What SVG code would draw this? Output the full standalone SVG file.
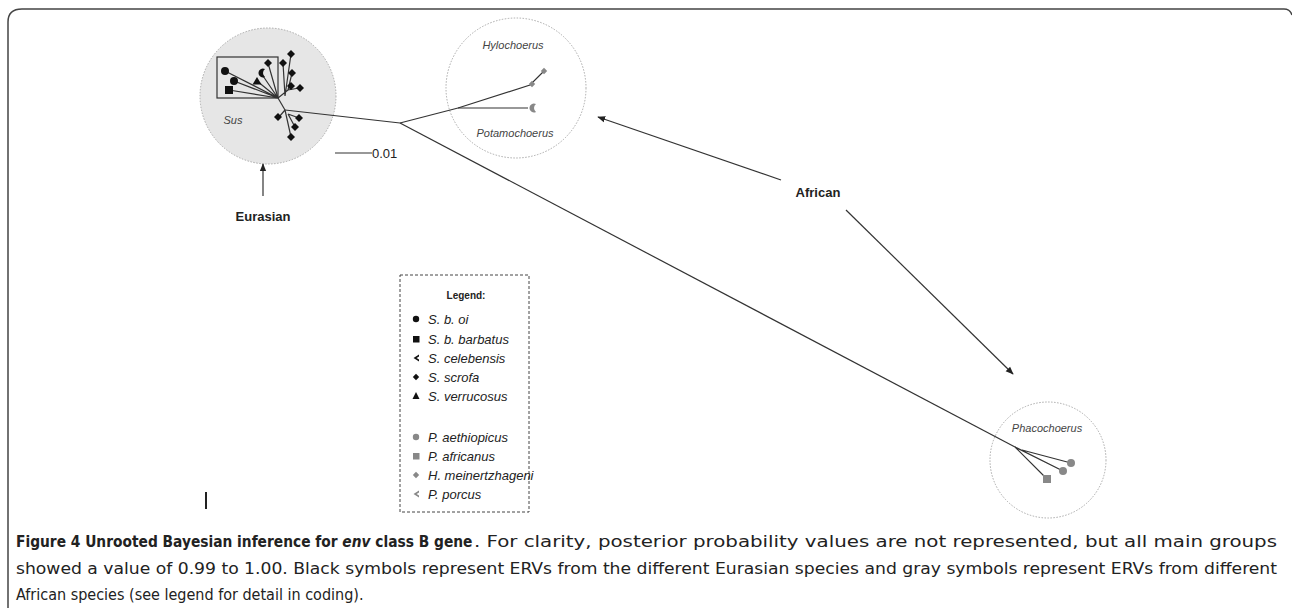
<svg xmlns="http://www.w3.org/2000/svg" width="1292" height="608" viewBox="0 0 1292 608">
<style>
.br{stroke:#333;stroke-width:1.2;fill:none}
.clade{fill:none;stroke:#aaa;stroke-width:1;stroke-dasharray:1.5 1.5}
.lab{font-family:"Liberation Sans",Arial,sans-serif;font-style:italic;font-size:11px;fill:#444}
.bold{font-family:"Liberation Sans",Arial,sans-serif;font-weight:bold;font-size:13px;fill:#222}
.leg{font-family:"Liberation Sans",Arial,sans-serif;font-style:italic;font-size:13px;fill:#222}
.cap{font-family:"DejaVu Sans Condensed","DejaVu Sans",sans-serif;font-size:16px;fill:#222}
.blk{fill:#111}
.gry{fill:#888}
.arr{stroke:#333;stroke-width:1.2;fill:none;marker-end:url(#ah)}
</style>
<defs>
<marker id="ah" viewBox="0 0 10 10" refX="9" refY="5" markerWidth="8" markerHeight="8" orient="auto" markerUnits="userSpaceOnUse"><path d="M0,1 L10,5 L0,9 Z" fill="#222"/></marker>
<path id="dia" d="M0,-4 L4,0 L0,4 L-4,0 Z"/>
<path id="sdia" d="M0,-3.2 L3.2,0 L0,3.2 L-3.2,0 Z"/>
<path id="cres" d="M3,-4 A4.5,4.5 0 1 0 3,4 A5,5 0 0 1 3,-4 Z"/>
<path id="chev" d="M3,-3.5 L-2.5,0 L3,3.5 L3,1.6 L0.6,0 L3,-1.6 Z"/>
<path id="tri" d="M0,-4 L4.5,3.5 L-4.5,3.5 Z"/>
</defs>

<path d="M8,608 V22 Q8,9 22,9 H1284 Q1290,9 1292,15" fill="none" stroke="#444" stroke-width="1.5"/>

<g id="sus">
<circle cx="268" cy="96" r="68" fill="#e6e6e6" stroke="#aaa" stroke-width="1" stroke-dasharray="1.5 1.5"/>
<rect x="217" y="57" width="61" height="41" fill="none" stroke="#333" stroke-width="1.2"/>
<text class="lab" x="233" y="124" text-anchor="middle" font-size="12">Sus</text>
<g class="br">
<path d="M278,98 L225,71 M278,98 L234,81 M278,98 L229,90 M278,98 L257,81 M278,98 L261,73 M278,98 L268,63"/>
<path d="M278,98 L285,110"/>
<path d="M285,96 L283,63 M285,96 L291,54 M288,90 L292,73 M288,90 L291,85 M288,90 L299,88 M278,98 L288,90"/>
<path d="M285,110 L279,117 M285,110 L291,137 M288,114 L299,118 M288,114 L295,127"/>
</g>
<circle class="blk" cx="225" cy="71" r="4"/>
<circle class="blk" cx="234" cy="81" r="4"/>
<rect class="blk" x="225" y="86" width="8" height="8"/>
<use href="#tri" x="257" y="81" class="blk"/>
<use href="#cres" x="262" y="73" class="blk"/>
<use href="#dia" x="268" y="63" class="blk"/>
<use href="#dia" x="291" y="54" class="blk"/>
<use href="#dia" x="283" y="63" class="blk"/>
<use href="#dia" x="292" y="73" class="blk"/>
<use href="#dia" x="291" y="86" class="blk"/>
<use href="#dia" x="300" y="88" class="blk"/>
<use href="#dia" x="278" y="117" class="blk"/>
<use href="#dia" x="299" y="118" class="blk"/>
<use href="#dia" x="295" y="127" class="blk"/>
<use href="#dia" x="291" y="137" class="blk"/>
</g>

<g id="hylo">
<circle cx="516" cy="88" r="70" class="clade" fill="#fff"/>
<text class="lab" x="513" y="49" text-anchor="middle">Hylochoerus</text>
<text class="lab" x="515" y="137" text-anchor="middle">Potamochoerus</text>
<g class="br">
<path d="M458,108 L530,85 L544,71 M530,85 L532,84"/>
<path d="M458,108 L528,108"/>
</g>
<use href="#sdia" x="544" y="71" class="gry"/>
<use href="#sdia" x="532" y="84" class="gry"/>
<use href="#cres" x="533" y="108" class="gry"/>
</g>

<g id="phaco">
<circle cx="1048" cy="460" r="58" class="clade" fill="#fff"/>
<text class="lab" x="1047" y="432" text-anchor="middle">Phacochoerus</text>
<g class="br">
<path d="M1015,447 L1047,479 M1015,447 L1063,471 M1022,450 L1071,463"/>
</g>
<rect class="gry" x="1043" y="475" width="8" height="8"/>
<circle class="gry" cx="1063" cy="471" r="4"/>
<circle class="gry" cx="1071" cy="463" r="4"/>
</g>

<g id="connectors">
<path class="br" d="M285,110 L400,123"/>
<path class="br" d="M400,123 L458,108"/>
<path class="br" d="M400,123 L1015,447"/>
<path class="arr" d="M781,180 L598,117"/>
<path class="arr" d="M846,210 L1013,374"/>
<path class="arr" d="M263,196 L263,164"/>
</g>

<g id="labels">
<text class="bold" x="818" y="197" text-anchor="middle">African</text>
<text class="bold" x="263" y="221" text-anchor="middle">Eurasian</text>
<line x1="335" y1="153" x2="372" y2="153" stroke="#333" stroke-width="1.2"/>
<text x="372" y="158" font-family="Liberation Sans,Arial,sans-serif" font-size="13" fill="#222">0.01</text>
<rect x="205" y="492" width="2" height="17" fill="#222"/>
</g>

<g id="legend">
<rect x="400" y="275" width="129" height="237" fill="none" stroke="#444" stroke-width="1" stroke-dasharray="3 2"/>
<text x="466" y="299" text-anchor="middle" font-family="Liberation Sans,Arial,sans-serif" font-weight="bold" font-size="10" fill="#222">Legend:</text>
<circle class="blk" cx="416" cy="319" r="3.2"/>
<text class="leg" x="428" y="323.5">S. b. oi</text>
<rect class="blk" x="413" y="336" width="6.5" height="6.5"/>
<text class="leg" x="428" y="343.5">S. b. barbatus</text>
<use href="#chev" x="416" y="358" class="blk"/>
<text class="leg" x="428" y="362.5">S. celebensis</text>
<use href="#sdia" x="416" y="377" class="blk"/>
<text class="leg" x="428" y="381.5">S. scrofa</text>
<path class="blk" d="M416,392 L419.5,399 L412.5,399 Z"/>
<text class="leg" x="428" y="400.5">S. verrucosus</text>
<circle class="gry" cx="416" cy="437" r="3.2"/>
<text class="leg" x="428" y="441.5">P. aethiopicus</text>
<rect class="gry" x="413" y="453" width="6.5" height="6.5"/>
<text class="leg" x="428" y="460.5">P. africanus</text>
<use href="#sdia" x="416" y="475" class="gry"/>
<text class="leg" x="428" y="479.5">H. meinertzhageni</text>
<use href="#chev" x="416" y="494" class="gry"/>
<text class="leg" x="428" y="498.5">P. porcus</text>
</g>

<g id="caption">
<text class="cap" transform="translate(16,547) scale(0.85,1)" x="0" y="0" font-weight="bold" textLength="537" lengthAdjust="spacingAndGlyphs">Figure 4 Unrooted Bayesian inference for <tspan font-style="italic">env</tspan> class B gene</text>
<text class="cap" x="474" y="547" textLength="803" lengthAdjust="spacingAndGlyphs">. For clarity, posterior probability values are not represented, but all main groups</text>
<text class="cap" x="16" y="574" textLength="1261" lengthAdjust="spacingAndGlyphs">showed a value of 0.99 to 1.00. Black symbols represent ERVs from the different Eurasian species and gray symbols represent ERVs from different</text>
<text class="cap" x="16" y="600">African species (see legend for detail in coding).</text>
</g>
</svg>
